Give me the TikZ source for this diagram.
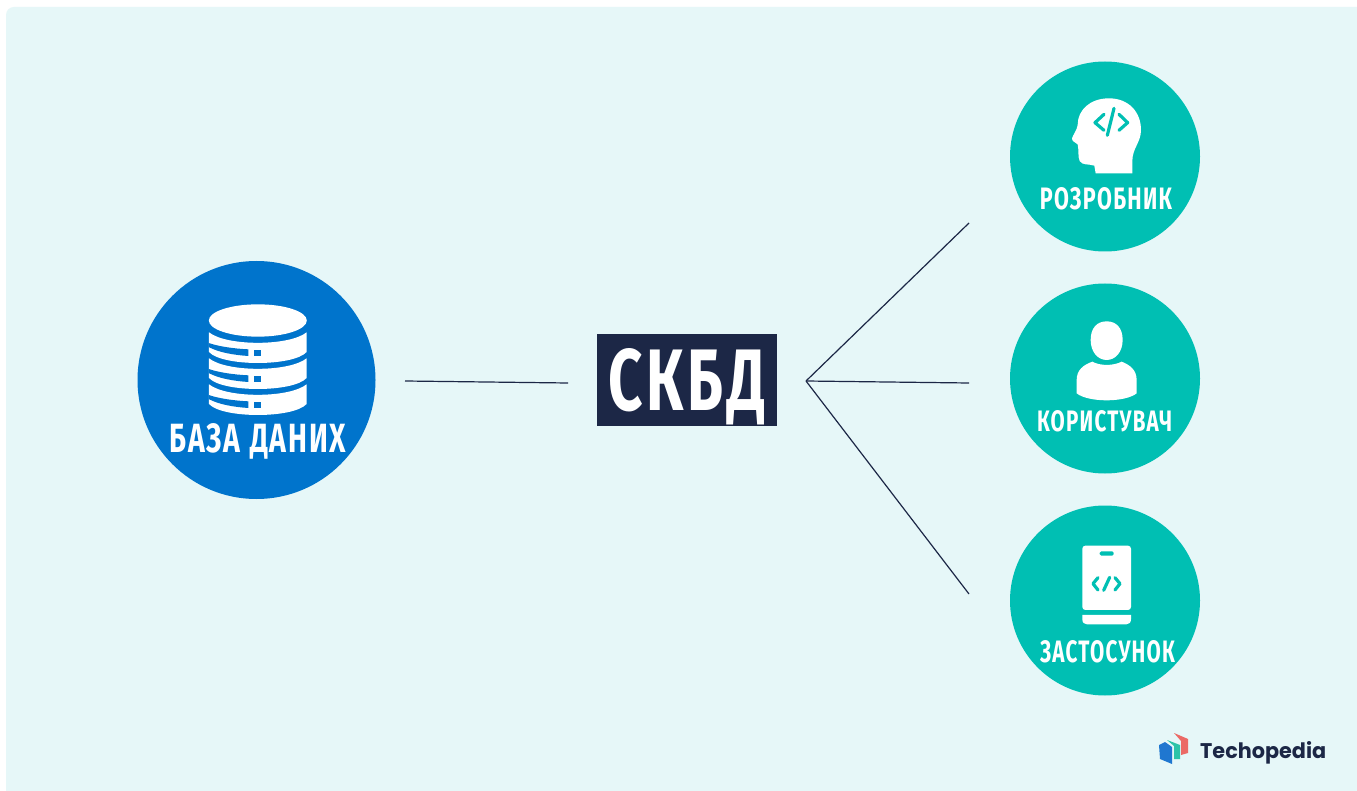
\documentclass[tikz,border=0pt]{standalone}
\usepackage{fontspec}
\usepackage{graphicx}
\setmainfont{Fira Sans}[LetterSpace=6]
\newfontfamily\logofont{Poppins}
\definecolor{panelbg}{HTML}{E6F7F8}
\definecolor{dbblue}{HTML}{0074CC}
\definecolor{tealc}{HTML}{00BFB3}
\definecolor{navyc}{HTML}{1C2746}
\definecolor{logoblue}{HTML}{1F77D0}
\definecolor{logogreen}{HTML}{2CC4A8}
\definecolor{logored}{HTML}{EB6A66}
\newcommand{\fittext}[3]{\resizebox{#1pt}{#2pt}{\bfseries #3}}
\tikzset{
  disc/.style={circle,inner sep=0pt,minimum size=#1,draw=none},
  caption/.style={anchor=base,inner sep=0pt,text=white},
  link/.style={draw=navyc,line width=1.2pt},
  zoomframe/.style={x=0.3333pt,y=-0.3333pt},
  codemark/.style={draw=tealc,line width=3.2pt,line cap=round,line join=round}
}
\begin{document}
\begin{tikzpicture}[x=1pt,y=-1pt]
\useasboundingbox (0,0) rectangle (1357,791);
\clip (0,0) rectangle (1357,791);
\fill[white] (0,0) rectangle (1357,791);
\fill[panelbg,rounded corners=8pt] (6,7) rectangle (1375,810);
% nodes
\node[disc=238pt,fill=dbblue] (db) at (256.5,380) {};
\node[disc=190pt,fill=tealc] (dev) at (1105,156.5) {};
\node[disc=190pt,fill=tealc] (usr) at (1105,378.5) {};
\node[disc=190pt,fill=tealc] (app) at (1105,600.5) {};
\node[fill=navyc,inner sep=0pt,minimum width=180pt,minimum height=92pt] (dbms) at (687,380) {};
% connector ends
\coordinate (dbout) at (405,381);
\coordinate (dbmsin) at (568,383);
\coordinate (hub) at (806,381);
\coordinate (devend) at (969,223);
\coordinate (usrend) at (969,383);
\coordinate (append) at (969,594);
\draw[link] (dbout) -- (dbmsin);
\draw[link] (hub) -- (devend);
\draw[link] (hub) -- (usrend);
\draw[link] (hub) -- (append);
% labels
\node[caption] (dbmst) at (687,410) {\fittext{156}{62}{СКБД}};
\node[caption] (dbt) at (258,452) {\fittext{176}{29}{БАЗА\hspace{0.35em}ДАНИХ}};
\node[caption] (devt) at (1106,210) {\fittext{132}{22}{РОЗРОБНИК}};
\node[caption] (usrt) at (1104.5,431) {\fittext{135}{21}{КОРИСТУВАЧ}};
\node[caption] (appt) at (1107.5,662) {\fittext{135}{22}{ЗАСТОСУНОК}};
% database icon (coordinates of the 3x crop at 130,255)
\begin{scope}[shift={(130,255)},zoomframe]
  \fill[white] (383.5,196.5) ellipse [x radius=147,y radius=48.5];
  \foreach \d in {0,78,156}{
    \begin{scope}[yshift=-\d*0.3333pt]
      \fill[white] (237,232) .. controls (290,274) and (477,274) .. (530,232)
        -- (530,291) .. controls (490,335) and (277,335) .. (237,291) -- cycle;
      \fill[dbblue] (236,264) .. controls (265,274) and (310,281) .. (355,283)
        -- (355,303) .. controls (310,300) and (265,292) .. (236,276) -- cycle;
      \fill[dbblue] (373,285) rectangle (393,303);
    \end{scope}
  }
\end{scope}
% developer icon
\begin{scope}[shift={(1005,55)},zoomframe]
  \fill[white] (272,355) -- (268,332) .. controls (250,326) and (232,332) .. (224,318)
    .. controls (218,305) and (222,285) .. (218,268)
    .. controls (210,262) and (200,258) .. (201,250)
    .. controls (204,240) and (216,225) .. (218,210)
    .. controls (218,165) and (255,130) .. (312,130)
    .. controls (370,130) and (408,170) .. (408,225)
    .. controls (408,262) and (382,280) .. (382,318) -- (382,355) -- cycle;
  \draw[codemark] (297,178) -- (270,203) -- (297,226);
  \draw[codemark] (342,178) -- (368,203) -- (342,226);
  \draw[codemark] (327,160) -- (307,241);
\end{scope}
% user icon
\begin{scope}[shift={(1005,280)},zoomframe]
  \fill[white] (305,124) .. controls (335,124) and (353,145) .. (353,180)
    .. controls (353,215) and (332,240) .. (305,240)
    .. controls (278,240) and (257,215) .. (257,180)
    .. controls (257,145) and (275,124) .. (305,124) -- cycle;
  \fill[white] (262,245) .. controls (285,258) and (325,258) .. (350,245)
    .. controls (375,255) and (395,270) .. (395,300)
    -- (395,340) .. controls (360,368) and (250,368) .. (215,340)
    -- (215,300) .. controls (215,270) and (235,255) .. (262,245) -- cycle;
\end{scope}
% application icon
\begin{scope}[shift={(1005,500)},zoomframe]
  \fill[white,rounded corners=3pt] (232,137) rectangle (378,330);
  \fill[white] (232,345) -- (378,345) -- (378,358) .. controls (378,368) and (372,373) .. (364,373)
    -- (246,373) .. controls (238,373) and (232,368) .. (232,358) -- cycle;
  \fill[tealc,rounded corners=1.5pt] (284,154) rectangle (326,167);
  \draw[codemark] (279,233) -- (264,251) -- (279,270);
  \draw[codemark] (330,233) -- (345,251) -- (330,270);
  \draw[codemark] (314,232) -- (296,271);
\end{scope}
% logo
\node[anchor=base west,inner sep=0pt,text=navyc] (logot) at (1200,758)
  {\resizebox{126pt}{17pt}{\logofont\bfseries Techopedia}};
\fill[logoblue] (1159,745) -- (1165,742) -- (1172,747) -- (1172,764) -- (1160,759) -- cycle;
\fill[logogreen] (1167,740) -- (1180,745) -- (1180,759) -- (1174,759) -- (1174,746) -- cycle;
\fill[logored] (1174,733) -- (1188,739) -- (1188,753) -- (1181,755) -- (1181,741) -- cycle;
\end{tikzpicture}
\end{document}
